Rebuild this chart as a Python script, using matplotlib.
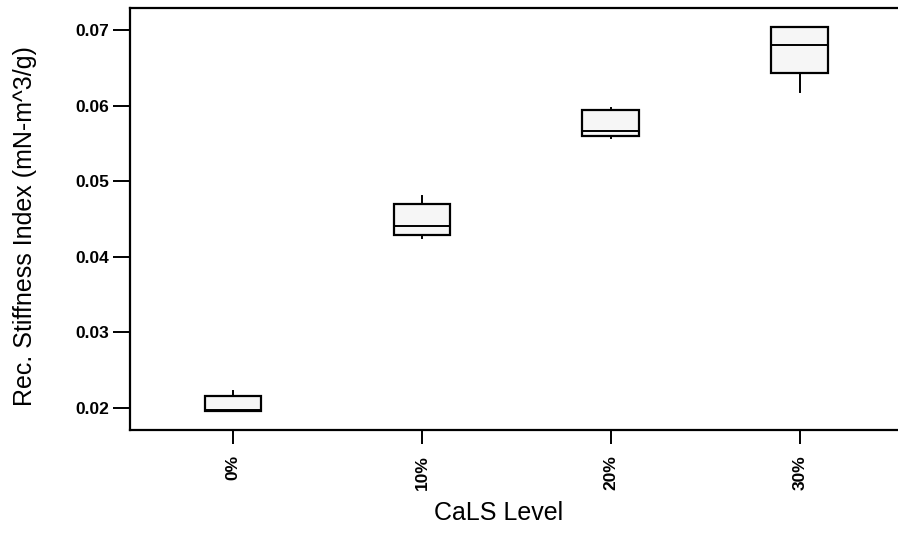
import matplotlib
matplotlib.use("Agg")
import matplotlib.pyplot as plt

plt.rcParams['font.family'] = ['Liberation Sans', 'DejaVu Sans']

levels = ['0%', '10%', '20%', '30%']
whisker_lo = [0.0196, 0.0425, 0.0557, 0.0618]
q1 = [0.0196, 0.0429, 0.0560, 0.0643]
median = [0.0197, 0.0441, 0.0566, 0.0680]
q3 = [0.0216, 0.0470, 0.0594, 0.0704]
whisker_hi = [0.0222, 0.0480, 0.0597, 0.0704]

stats = []
for i in range(len(levels)):
    stats.append(dict(label=levels[i], whislo=whisker_lo[i], q1=q1[i],
                      med=median[i], q3=q3[i], whishi=whisker_hi[i], fliers=[]))

fig = plt.figure(figsize=(8.98, 5.34), dpi=100)
ax = fig.add_axes([130 / 898, 1 - 430 / 534, 1 - 130 / 898, 422 / 534])

ax.bxp(stats, positions=range(len(levels)), widths=0.3, showcaps=False,
       patch_artist=True,
       boxprops=dict(facecolor='#f6f6f6', edgecolor='black', linewidth=1.6),
       medianprops=dict(color='black', linewidth=1.4),
       whiskerprops=dict(color='black', linewidth=1.4))

ax.set_xlim(-0.545, 3.52)
ax.set_ylim(0.0171, 0.0729)
ax.set_yticks([0.02, 0.03, 0.04, 0.05, 0.06, 0.07])
ax.set_yticklabels(['0.02', '0.03', '0.04', '0.05', '0.06', '0.07'],
                   fontsize=12.5, fontweight='bold')
ax.set_xticks(range(len(levels)))
ax.set_xticklabels(levels, rotation=90, fontsize=12.5, fontweight='bold')
ax.tick_params(axis='y', length=12, width=1.4, color='black', pad=3)
ax.tick_params(axis='x', length=10, width=1.4, color='black', pad=8)
ax.spines['right'].set_visible(False)
for s in ['left', 'top', 'bottom']:
    ax.spines[s].set_linewidth(1.6)

ax.set_ylabel('Rec. Stiffness Index (mN-m^3/g)', fontsize=18, va='center')
ax.yaxis.set_label_coords(-105 / 768, 0.5 - 7 / 422)
ax.set_xlabel('CaLS Level', fontsize=18, va='center')
ax.xaxis.set_label_coords((499 - 130) / 768, -83 / 422)

fig.savefig('out.png', dpi=100)
